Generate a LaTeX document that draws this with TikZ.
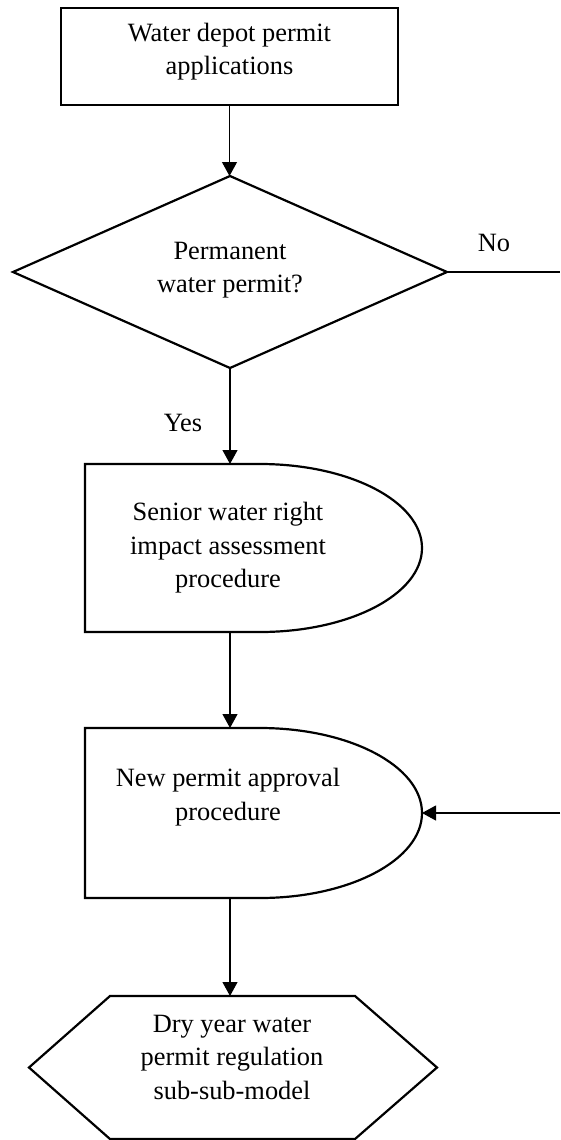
\documentclass[tikz,border=0pt]{standalone}
\usepackage{fontspec}
\setmainfont{Liberation Serif}
\usetikzlibrary{arrows.meta}
\begin{document}
\begin{tikzpicture}[x=1pt,y=1pt,
  frame/.style={draw=none, rectangle, inner sep=0pt, outer sep=0pt},
  outline/.style={draw=black, line width=2.2pt, line join=miter},
  txt/.style={align=center, inner sep=0pt, font=\fontsize{26.4}{33.5}\selectfont},
  flow/.style={draw=black, line width=1.1pt, -{Triangle[length=14pt,width=15pt]}},
  plain/.style={draw=black, line width=1.1pt}]
\useasboundingbox (0,0) rectangle (560,-1140);

% start: application box
\node[frame, minimum width=337pt, minimum height=97pt] (start) at (229.5,-56.5) {};
\draw[outline] (start.south west) rectangle (start.north east);
\node[txt] (starttext) at (229.5,-51.5) {Water depot permit\\applications};

% decision diamond
\node[frame, minimum width=434pt, minimum height=192pt] (perm) at (230,-272) {};
\draw[outline] (perm.north) -- (perm.east) -- (perm.south) -- (perm.west) -- cycle;
\node[txt] (permtext) at (230,-270) {Permanent\\water permit?};

% senior water right procedure (D-shaped box)
\node[frame, minimum width=337pt, minimum height=168pt] (senior) at (253.5,-548) {};
\draw[outline] (senior.south west) -- (senior.north west) -- ++(175,0)
  arc[start angle=90, end angle=-90, x radius=162, y radius=84] -- cycle;
\node[txt] (seniortext) at (228,-548) {Senior water right\\impact assessment\\procedure};

% new permit approval procedure (D-shaped box)
\node[frame, minimum width=337pt, minimum height=170pt] (approval) at (253.5,-813) {};
\draw[outline] (approval.south west) -- (approval.north west) -- ++(175,0)
  arc[start angle=90, end angle=-90, x radius=162, y radius=85] -- cycle;
\node[txt] (approvaltext) at (228,-797) {New permit approval\\procedure};

% dry year sub-sub-model (hexagon)
\node[frame, minimum width=408pt, minimum height=143pt] (drymodel) at (233,-1067.5) {};
\draw[outline] (drymodel.west) -- ++(81,71.5) -- ++(245,0) -- (drymodel.east)
  -- ++(-82,-71.5) -- ++(-245,0) -- cycle;
\node[txt] (drytext) at (232,-1057) {Dry year water\\permit regulation\\sub-sub-model};

% main trunk
\draw[flow] (start.south) -- (start.south |- perm.north);
\draw[flow] (perm.south) -- (perm.south |- senior.north);
\draw[flow] (perm.south |- senior.south) -- (perm.south |- approval.north);
\draw[flow] (perm.south |- approval.south) -- (perm.south |- drymodel.north);

% "No" branch leaves on the right and returns into the approval step
\coordinate (noexit) at (560,-272);
\coordinate (noreturn) at (560,-813);
\draw[plain] (perm.east) -- (noexit);
\draw[flow] (noreturn) -- (approval.east);

% branch labels
\node[txt] (yes) at (183,-423) {Yes};
\node[txt] (no) at (494,-243) {No};
\end{tikzpicture}
\end{document}
